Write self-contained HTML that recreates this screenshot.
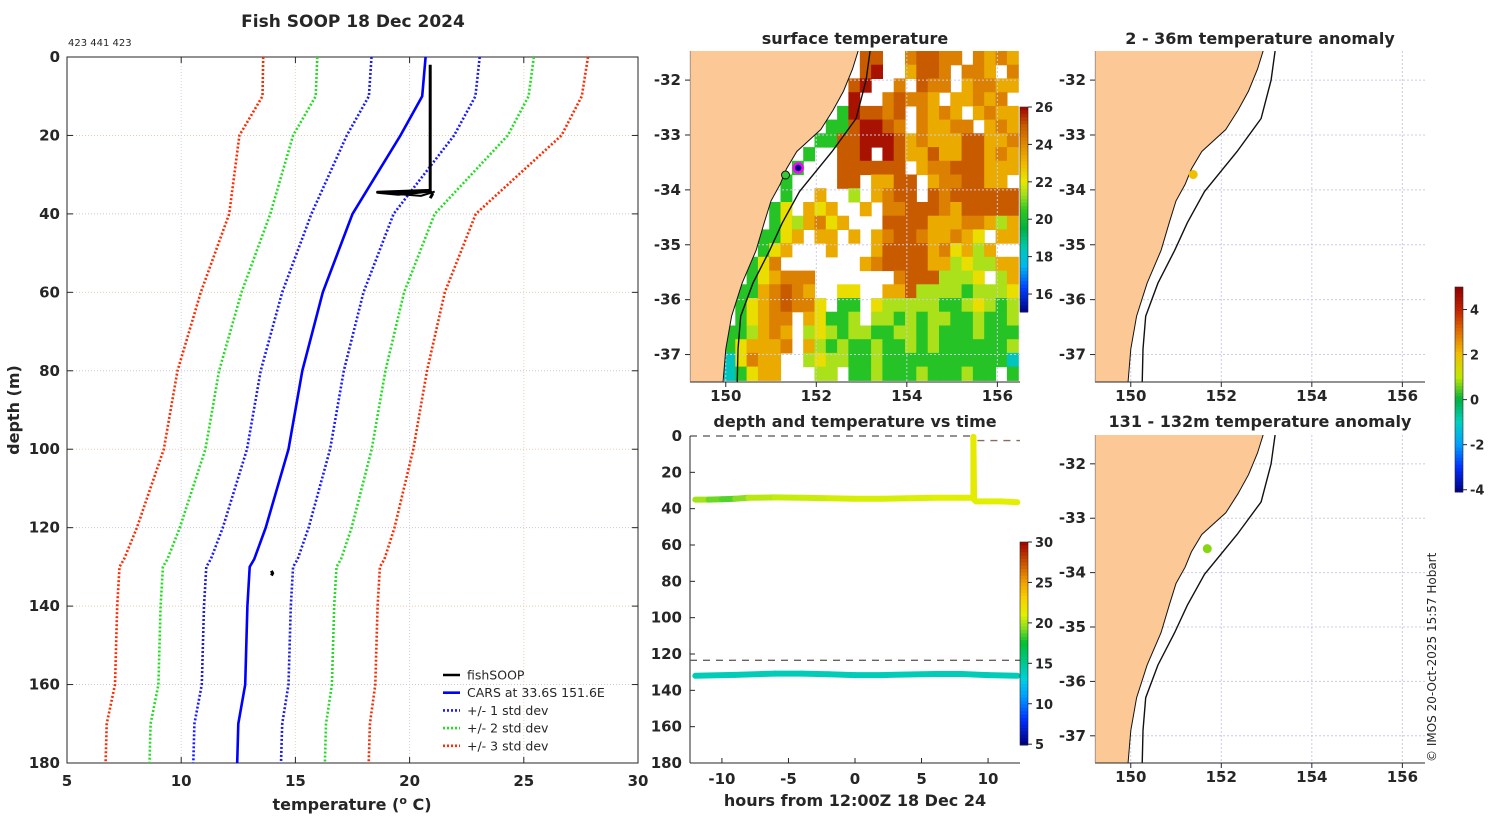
<!DOCTYPE html>
<html><head><meta charset="utf-8"><style>
html,body{margin:0;padding:0;background:#fff;}
svg{display:block;font-family:"DejaVu Sans","Liberation Sans",sans-serif;}
</style></head><body>
<svg id="fig" width="1500" height="820" viewBox="0 0 1500 820"></svg>
<script>
// ---------- profile data ----------
const profDepth = [0, 10, 20, 40, 60, 80, 100, 120, 128, 130, 140, 160, 170, 180];
const carsMean  = [20.7, 20.55, 19.6, 17.5, 16.2, 15.3, 14.7, 13.7, 13.2, 13.0, 12.9, 12.8, 12.5, 12.45];
const carsStd   = [2.37, 2.33, 2.35, 1.8, 1.78, 1.82, 1.82, 1.88, 1.9, 1.9, 1.9, 1.9, 1.92, 1.92];
const soopTemp  = [20.9, 20.9, 20.9, 20.9, 18.6, 19.5, 20.9, 21.0, 20.9];
const soopDepth = [2, 10, 25, 34, 34.5, 35, 34.2, 35, 36];
const soopDeepT = [13.95, 14.0, 13.95];
const soopDeepD = [131, 131.6, 132.2];
const profXTicks = [5, 10, 15, 20, 25, 30];
const profYTicks = [0, 20, 40, 60, 80, 100, 120, 140, 160, 180];
// ---------- map data ----------
const coastLat = [-31.4, -31.8, -32.2, -32.55, -32.9, -33.3, -33.62, -33.9, -34.2, -34.6, -35.1, -35.7, -36.3, -36.9, -37.6];
const coastLon = [152.95, 152.8, 152.6, 152.37, 152.1, 151.57, 151.34, 151.2, 151.0, 150.85, 150.67, 150.36, 150.13, 150.0, 149.93];
const shelfLat = [-31.4, -32.0, -32.7, -33.3, -34.03, -34.6, -35.1, -35.7, -36.3, -36.9, -37.6];
const shelfLon = [153.2, 153.1, 152.88, 152.35, 151.63, 151.25, 150.97, 150.6, 150.33, 150.27, 150.25];
const lonTicks = [150, 152, 154, 156];
const latTicks = [-32, -33, -34, -35, -36, -37];
const sstCodes = {B: 25.8, R: 25.0, O: 24.2, o: 23.3, Y: 22.2, y: 21.4, G: 20.3, g: 19.7, c: 18.3};
const sstRows = [
"...............RR..ORROO.OoOo",
"...............RB..oRRO.OOo.O",
"..............RB..O.ROO.oOOoo",
"..............B..OROOo.ooOoO.",
".............GBRROR.OoOo.oOoo",
"............GGRBBRO.OooOO.oOo",
"...........GGRRBBBRoOoooRRooO",
"..........G..RRB.BRooRooRRoOo",
".........G...RRRRRR.oOORRRooo",
"........G....RR.ooRR.oOORRoo.",
"........G..o..y.oORR.RORRRRRR",
".......GY.oYo..o.OORRROoRRRRR",
".......GYyoOYo...RRRRoooOOoyo",
"......GGYo.oo.o.oORROooOoY.oo",
"......GYo...o...oRRRRoOYoyo..",
".....GYO.......oORRRRooyYyyoo",
".....GYoOOO.......ORRRyyyY.yo",
"....GGoOROo..YY..ooRyyyyGyyyY",
"....GYoOROOY.GG.YyyyyyGGyYyGy",
"....GYoOO.oYGGy.yyGyGyyGGyGGy",
"...GGyoOo.yYyGyyGGyyGyGGGyGGG",
"...GYoooO.oyGyGGyGGyGyGGGGGGy",
"...cYOoo..yYyyGGyGGGGGGGGGGGc",
"...cGYoo...yy.GGyGGGyGGGyGG.G"];
const sstCbarTicks = [16, 18, 20, 22, 24, 26];
const anomCbarTicks = [-4, -2, 0, 2, 4];
const anomTop = {lon: 151.38, lat: -33.72, val: 2.0};
const anomDeep = {lon: 151.69, lat: -33.56, val: 0.7};
// ---------- time series data ----------
const trackT1 = [-12, -11, -10, -9, -8, -6, -4, -2, 0, 2, 4, 6, 8, 8.9, 8.9, 8.95, 9.1, 10, 11, 12.2];
const trackD1 = [35, 35, 34.8, 34.5, 34, 33.8, 34, 34.3, 34.5, 34.5, 34.3, 34, 34, 34, 0.5, 35, 36, 36, 36, 36.5];
const trackC1 = [20.2, 19.5, 18.5, 18.8, 20, 20.5, 20.5, 20.7, 20.8, 20.8, 20.8, 21, 21, 21.2, 21.5, 21.2, 21, 21, 21, 21];
const trackT2 = [-12, -9, -6, -4, -2, 0, 2, 4, 6, 8, 10, 12.2];
const trackD2 = [132, 131.5, 130.8, 130.8, 131.2, 131.6, 131.6, 131.3, 131, 131, 131.6, 132];
const trackC2 = [14, 14, 14, 14, 14, 14, 14, 14, 14, 14, 14, 14];
const timeXTicks = [-10, -5, 0, 5, 10];
const timeYTicks = [0, 20, 40, 60, 80, 100, 120, 140, 160, 180];
const tsCbarTicks = [5, 10, 15, 20, 25, 30];

// ---------- helpers ----------
const NS = "http://www.w3.org/2000/svg";
const svg = document.getElementById("fig");
function mk(tag, attrs, parent) {
  const e = document.createElementNS(NS, tag);
  for (const k in attrs) e.setAttribute(k, attrs[k]);
  (parent || svg).appendChild(e);
  return e;
}
function txt(s, x, y, size, anchor, parent, weight) {
  const t = mk("text", {x: x, y: y, "font-size": size, "text-anchor": anchor || "middle", "font-weight": weight || "bold", fill: "#262626"}, parent);
  t.textContent = s;
  return t;
}
function hex(c){return [parseInt(c.slice(1,3),16),parseInt(c.slice(3,5),16),parseInt(c.slice(5,7),16)];}
function cmap(stops, v) {
  if (v <= stops[0][0]) return stops[0][1];
  for (let i = 1; i < stops.length; i++) {
    if (v <= stops[i][0]) {
      const f = (v - stops[i-1][0]) / (stops[i][0] - stops[i-1][0]);
      const a = hex(stops[i-1][1]), b = hex(stops[i][1]);
      return "rgb(" + a.map((x, j) => Math.round(x + (b[j]-x)*f)).join(",") + ")";
    }
  }
  return stops[stops.length-1][1];
}
const sstStops = [[15,'#000080'],[16.3,'#0040ff'],[17.5,'#00b8f0'],[18.5,'#00c8b0'],[19.5,'#00b040'],[20.5,'#30c820'],[21.3,'#a0e020'],[22,'#e8e800'],[23,'#f0b800'],[24,'#e08a00'],[25,'#c85a00'],[26,'#a00000']];
const tsStops = [[5,'#000080'],[8,'#0030ff'],[11,'#00a0ff'],[13,'#00d0e0'],[15,'#00c890'],[17.5,'#00c030'],[19.5,'#90e020'],[21,'#e0f000'],[23,'#f8d000'],[25,'#f0a000'],[27,'#d06000'],[30,'#a00000']];
const anomStops = [[-4.1,'#000080'],[-3,'#0030ff'],[-2,'#00a0ff'],[-1,'#00d0c0'],[0,'#00b040'],[1,'#c0e800'],[2,'#f0c000'],[3,'#e07000'],[4,'#c02000'],[5,'#900000']];

// ---------- LEFT PROFILE PANEL ----------
const P = {x0: 67, x1: 638, y0: 57, y1: 763};
const px = t => P.x0 + (t - 5) / 25 * (P.x1 - P.x0);
const py = d => P.y0 + d / 180 * (P.y1 - P.y0);
const gP = mk("g", {}, svg);


txt("Fish SOOP 18 Dec 2024", 353, 27, 17, "middle", gP);
txt("423 441 423", 68, 46, 10, "start", gP, "normal");
profXTicks.forEach(t => {
  if (t > 5 && t < 30) mk("line", {x1: px(t), x2: px(t), y1: P.y0, y2: P.y1, stroke: (t%10===0)?"#c8d0f0":"#f0d0b8", "stroke-dasharray": "1,2"}, gP);
  mk("line", {x1: px(t), x2: px(t), y1: P.y1, y2: P.y1-6, stroke: "#262626"}, gP);
  mk("line", {x1: px(t), x2: px(t), y1: P.y0, y2: P.y0+6, stroke: "#262626"}, gP);
  const l = txt(String(t), px(t), 786, 15, "middle", gP);
  
});
profYTicks.forEach(d => {
  if (d > 0 && d < 180) mk("line", {x1: P.x0, x2: P.x1, y1: py(d), y2: py(d), stroke: (d%40===0)?"#c8c8d8":"#e0d0b0", "stroke-dasharray": "1,2"}, gP);
  mk("line", {x1: P.x0, x2: P.x0+6, y1: py(d), y2: py(d), stroke: "#262626"}, gP);
  mk("line", {x1: P.x1, x2: P.x1-6, y1: py(d), y2: py(d), stroke: "#262626"}, gP);
  const l = txt(String(d), 60, py(d)+5, 15, "end", gP);
  
});
mk("rect", {x: P.x0, y: P.y0, width: P.x1-P.x0, height: P.y1-P.y0, fill: "none", stroke: "#262626", "stroke-width": 1}, gP);
const xl = mk("text", {x: 352, y: 810, "font-size": 16, "font-weight": "bold", fill: "#262626", "text-anchor": "middle"}, gP);
xl.innerHTML = 'temperature (<tspan dy="-6" font-size="11">o</tspan><tspan dy="6"> C)</tspan>';

const yl = txt("depth (m)", 0, 0, 16, "middle", gP);
yl.setAttribute("transform", "translate(19,410) rotate(-90)");

function profLine(k, color, dash, name) {
  const pts = profDepth.map((d, i) => px(carsMean[i] + k * carsStd[i]).toFixed(1) + "," + py(d).toFixed(1)).join(" ");
  const e = mk("polyline", {points: pts, fill: "none", stroke: color, "stroke-width": 2.6, "stroke-dasharray": dash ? "2,2" : "none"}, gP);
  
  
}
profLine(-3, "#ff2a00", true, "minus-3-std-line");
profLine(3, "#ff2a00", true, "plus-3-std-line");
profLine(-2, "#22dd22", true, "minus-2-std-line");
profLine(2, "#22dd22", true, "plus-2-std-line");
profLine(-1, "#1a1aff", true, "minus-1-std-line");
profLine(1, "#1a1aff", true, "plus-1-std-line");
profLine(0, "#0000ff", false, "cars-mean-line");
const soop = mk("polyline", {points: soopDepth.map((d,i)=>px(soopTemp[i]).toFixed(1)+","+py(d).toFixed(1)).join(" "), fill: "none", stroke: "#000", "stroke-width": 3, "stroke-linejoin": "round"}, gP);


mk("polyline", {points: [[18.7,34.6],[20.5,35.4],[21.1,34.3]].map(p=>px(p[0])+","+py(p[1])).join(" "), fill:"none", stroke:"#000","stroke-width":2}, gP);
const soop2 = mk("polyline", {points: soopDeepD.map((d,i)=>px(soopDeepT[i]).toFixed(1)+","+py(d).toFixed(1)).join(" "), fill: "none", stroke: "#000", "stroke-width": 3}, gP);


// legend
const leg = [["fishSOOP","#000",false],["CARS at 33.6S 151.6E","#0000ff",false],["+/- 1 std dev","#1a1aff",true],["+/- 2 std dev","#22dd22",true],["+/- 3 std dev","#ff2a00",true]];
leg.forEach((L, i) => {
  const y = 675 + i * 17.7;
  const g = mk("g", {}, gP);
  
  
  mk("line", {x1: 443, x2: 460, y1: y, y2: y, stroke: L[1], "stroke-width": 2.6, "stroke-dasharray": L[2] ? "2,2" : "none"}, g);
  txt(L[0], 467, y+4.5, 12.5, "start", g, "normal");
});

// ---------- MAPS ----------
const lonMin = 149.21, lonMax = 156.5, latMax = -31.47, latMin = -37.5;
function makeMap(x0, y0, x1, y1, name) {
  const g = mk("g", {}, svg);
  
  
  const mx = lon => x0 + (lon - lonMin) / (lonMax - lonMin) * (x1 - x0);
  const my = lat => y0 + (latMax - lat) / (latMax - latMin) * (y1 - y0);
  return {g, mx, my, x0, y0, x1, y1};
}
function mapFrame(M, withSST) {
  const {g, mx, my, x0, y0, x1, y1} = M;
  const cid = "clip" + Math.round(x0) + Math.round(y0);
  const cp = mk("clipPath", {id: cid}, g);
  mk("rect", {x: x0, y: y0, width: x1-x0, height: y1-y0}, cp);
  const inner = mk("g", {"clip-path": "url(#" + cid + ")"}, g);
  if (withSST) {
    const cellG = mk("g", {}, inner);
    
    
    sstRows.forEach((row, r) => {
      for (let c = 0; c < row.length; c++) {
        const v = sstCodes[row[c]];
        if (v === undefined) continue;
        const lo = lonMin + c * 0.25, la = latMax - r * 0.25;
        mk("rect", {x: mx(lo).toFixed(1), y: my(la).toFixed(1), width: (mx(lo+0.25)-mx(lo)+0.6).toFixed(1), height: (my(la-0.25)-my(la)+0.6).toFixed(1), fill: cmap(sstStops, v)}, cellG);
      }
    });
  }
  lonTicks.forEach(l => mk("line", {x1: mx(l), x2: mx(l), y1: y0, y2: y1, stroke: "#c8cce8", "stroke-dasharray": "2,2"}, inner));
  latTicks.forEach(l => mk("line", {x1: x0, x2: x1, y1: my(l), y2: my(l), stroke: "#c8cce8", "stroke-dasharray": "2,2"}, inner));
  let d = "M" + x0 + "," + (y0-5);
  coastLat.forEach((la, i) => { d += " L" + mx(coastLon[i]).toFixed(1) + "," + my(la).toFixed(1); });
  d += " L" + x0 + "," + (y1+5) + " Z";
  const land = mk("path", {d: d, fill: "#fcc896", stroke: "#111", "stroke-width": 1}, inner);
  
  
  const shelf = mk("polyline", {points: shelfLat.map((la,i)=>mx(shelfLon[i]).toFixed(1)+","+my(la).toFixed(1)).join(" "), fill: "none", stroke: "#111", "stroke-width": 1.4}, inner);
  
  
  mk("line", {x1: x0, x2: x1, y1: y1, y2: y1, stroke: "#262626"}, g);
  mk("line", {x1: x0, x2: x0, y1: y0, y2: y1, stroke: "#bbb", "stroke-width": 0.6}, g);
  lonTicks.forEach(l => {
    mk("line", {x1: mx(l), x2: mx(l), y1: y1, y2: y1+5, stroke: "#262626"}, g);
    const t = txt(String(l), mx(l), y1+19, 15, "middle", g); 
  });
  latTicks.forEach(l => {
    mk("line", {x1: x0-5, x2: x0, y1: my(l), y2: my(l), stroke: "#262626"}, g);
    const t = txt(String(l), x0-9, my(l)+5, 15, "end", g); 
  });
}
function colorbar(x, y0, y1, vmin, vmax, stops, ticks, name) {
  const g = mk("g", {}, svg);
  
  
  const n = 60;
  for (let i = 0; i < n; i++) {
    const v = vmax - (i + 0.5) / n * (vmax - vmin);
    mk("rect", {x: x, y: (y0 + i/n*(y1-y0)).toFixed(2), width: 8, height: ((y1-y0)/n + 0.5).toFixed(2), fill: cmap(stops, v)}, g);
  }
  mk("rect", {x: x, y: y0, width: 8, height: y1-y0, fill: "none", stroke: "#262626", "stroke-width": 0.6}, g);
  ticks.forEach(t => {
    const y = y0 + (vmax - t) / (vmax - vmin) * (y1 - y0);
    mk("line", {x1: x+8, x2: x+12, y1: y, y2: y, stroke: "#262626"}, g);
    txt(String(t), x+15, y+5, 13, "start", g);
  });
}
const M1 = makeMap(690, 51, 1020, 382, "sst-map");
mapFrame(M1, true);
txt("surface temperature", 855, 44, 16, "middle", M1.g);
const mk1 = mk("circle", {cx: M1.mx(151.6), cy: M1.my(-33.6), r: 4.5, fill: "#000080", stroke: "#ff00ff", "stroke-width": 2.5}, M1.g);
 
const mk2 = mk("circle", {cx: M1.mx(151.32), cy: M1.my(-33.73), r: 4, fill: "#33cc33", stroke: "#111", "stroke-width": 1}, M1.g);
 
colorbar(1020, 107, 312, 15.04, 26, sstStops, sstCbarTicks, "sst-colorbar");

const M2 = makeMap(1095, 51, 1425, 382, "anomaly-map-surface");
mapFrame(M2, false);
txt("2 - 36m temperature anomaly", 1260, 44, 16, "middle", M2.g);
const a1 = mk("circle", {cx: M2.mx(anomTop.lon), cy: M2.my(anomTop.lat), r: 4.5, fill: cmap(anomStops, anomTop.val)}, M2.g);
 
const M3 = makeMap(1095, 435, 1425, 763, "anomaly-map-deep");
mapFrame(M3, false);
txt("131 - 132m temperature anomaly", 1260, 427, 16, "middle", M3.g);
const a2 = mk("circle", {cx: M3.mx(anomDeep.lon), cy: M3.my(anomDeep.lat), r: 4.5, fill: cmap(anomStops, anomDeep.val)}, M3.g);
 
colorbar(1455, 287, 492, -4.1, 5.0, anomStops, anomCbarTicks, "anomaly-colorbar");

// ---------- TIME SERIES PANEL ----------
const T = {x0: 690, x1: 1020, y0: 436, y1: 763};
const tx = h => T.x0 + (h + 12.4) / 24.8 * (T.x1 - T.x0);
const ty = d => T.y0 + d / 180 * (T.y1 - T.y0);
const gT = mk("g", {}, svg);


txt("depth and temperature vs time", 855, 427, 16, "middle", gT);
mk("line", {x1: T.x0, x2: T.x0, y1: T.y0, y2: T.y1, stroke: "#262626"}, gT);
mk("line", {x1: T.x0, x2: T.x1, y1: T.y1, y2: T.y1, stroke: "#262626"}, gT);
mk("line", {x1: T.x0, x2: tx(8.9), y1: T.y0, y2: T.y0, stroke: "#262626", "stroke-dasharray": "7,6"}, gT);
mk("line", {x1: tx(9.2), x2: T.x1, y1: ty(2.5), y2: ty(2.5), stroke: "#8a6a5a", "stroke-dasharray": "7,6", "stroke-width": 1.4}, gT);
const ref = mk("line", {x1: T.x0, x2: T.x1, y1: ty(123.5), y2: ty(123.5), stroke: "#6a6060", "stroke-dasharray": "7,6", "stroke-width": 1.4}, gT);
 
timeXTicks.forEach(h => {
  mk("line", {x1: tx(h), x2: tx(h), y1: T.y1, y2: T.y1-5, stroke: "#262626"}, gT);
  txt(String(h), tx(h), 784, 15, "middle", gT);
});
timeYTicks.forEach(d => {
  mk("line", {x1: T.x0, x2: T.x0+5, y1: ty(d), y2: ty(d), stroke: "#262626"}, gT);
  txt(String(d), 682, ty(d)+5, 15, "end", gT);
});
txt("hours from 12:00Z 18 Dec 24", 855, 806, 16, "middle", gT);
function track(ts, ds, cs, name) {
  const g = mk("g", {}, gT);
  
  
  for (let i = 1; i < ts.length; i++) {
    mk("line", {x1: tx(ts[i-1]).toFixed(1), y1: ty(ds[i-1]).toFixed(1), x2: tx(ts[i]).toFixed(1), y2: ty(ds[i]).toFixed(1), stroke: cmap(tsStops, (cs[i-1]+cs[i])/2), "stroke-width": 6, "stroke-linecap": "round"}, g);
  }
}
track(trackT1, trackD1, trackC1, "upper-track");
track(trackT2, trackD2, trackC2, "lower-track");
colorbar(1020, 542, 745, 4.9, 30, tsStops, tsCbarTicks, "time-temp-colorbar");

const cr = txt("© IMOS 20-Oct-2025 15:57 Hobart", 0, 0, 12, "start", svg, "normal");
cr.setAttribute("transform", "translate(1436,762) rotate(-90)");


</script>
</body></html>
